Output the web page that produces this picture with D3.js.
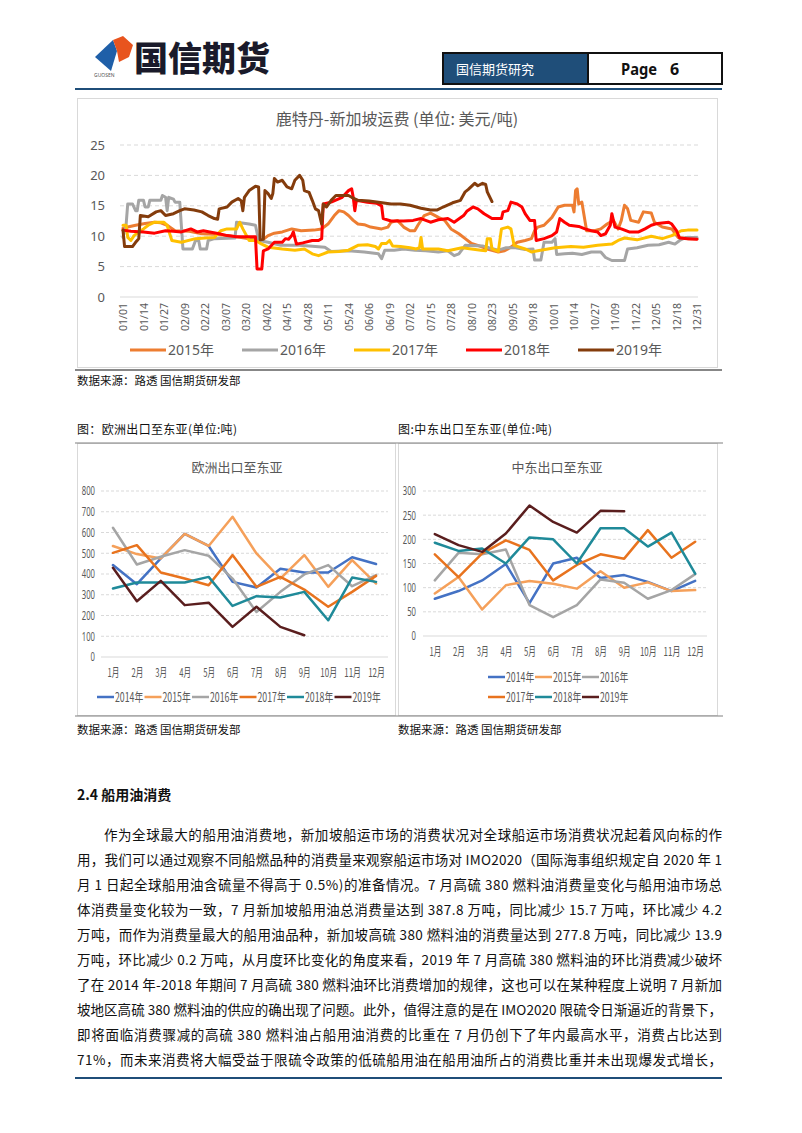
<!DOCTYPE html>
<html>
<head>
<meta charset="utf-8">
<script src="https://cdn.jsdelivr.net/npm/d3@7"></script>
<style>
  body { margin: 0; background: #fff; }
  svg { display: block; }
</style>
</head>
<body>
<svg id="page" width="802" height="1133"></svg>
<script>
// ---------- data ----------
const freightTicks = ["01/01","01/14","01/27","02/09","02/22","03/07","03/20","04/02","04/15","04/28",
  "05/11","05/24","06/06","06/19","07/02","07/15","07/28","08/10","08/23","09/05","09/18","10/01",
  "10/14","10/27","11/09","11/22","12/05","12/18","12/31"];
const freightYears = ["2015年","2016年","2017年","2018年","2019年"];

// [day of year, USD/t]
const freight2015 = [[0,11.3],[3,11.5],[8,11.8],[14,12.1],[20,12.3],[24,12.2],[28,11.8],[33,10.9],[42,10.8],[50,10.4],[58,10.3],[66,10.1],[75,9.8],[84,9.4],[88,9.3],[92,10.1],[96,10.5],[101,10.7],[107,11.2],[113,10.9],[121,11.0],[126,11.2],[130,12.0],[134,13.4],[137,14.2],[140,14.0],[143,13.4],[146,12.6],[149,12.0],[153,11.9],[157,11.5],[164,11.2],[168,11.5],[170,12.3],[174,12.6],[178,11.5],[182,10.9],[185,10.9],[187,11.8],[191,13.4],[195,13.8],[200,13.1],[204,12.6],[208,11.2],[213,10.4],[217,9.6],[221,8.8],[225,8.5],[231,7.9],[238,7.4],[242,7.6],[246,8.2],[250,9.0],[255,9.3],[259,9.6],[261,10.9],[263,11.5],[267,11.8],[272,13.1],[276,14.8],[280,15.1],[285,15.1],[286,14.0],[287,17.5],[288,17.8],[289,15.3],[291,15.6],[294,10.9],[299,10.9],[303,11.2],[307,12.0],[311,12.6],[314,11.2],[316,12.6],[318,15.1],[320,14.5],[322,12.6],[327,12.3],[330,14.0],[335,13.8],[337,12.3],[342,11.5],[348,11.2],[352,9.8],[358,9.6],[364,9.6]];
const freight2016 = [[0,9.8],[2,12],[3,15.3],[6,15.3],[8,14.2],[9,14.2],[10,15.9],[13,15.9],[14,14.8],[16,14.8],[17,15.9],[24,15.9],[25,16.7],[27,16.4],[28,14.2],[29,16.4],[32,16.1],[33,15.6],[36,15.6],[38,7.9],[44,7.9],[46,9.3],[48,9.3],[49,7.9],[53,7.9],[54,9.3],[58,9.6],[71,9.7],[72,12.3],[80,12.0],[84,11.8],[86,9.3],[92,9.0],[100,8.5],[112,8.5],[122,8.3],[128,8.2],[132,7.5],[143,7.6],[153,7.4],[162,7.1],[164,6.3],[166,7.7],[172,7.7],[178,7.9],[185,7.7],[192,7.6],[200,7.4],[206,7.6],[210,6.8],[213,7.1],[217,8.5],[228,8.4],[232,8.1],[238,7.7],[243,8.1],[249,8.1],[255,7.8],[260,7.9],[261,6.1],[265,6.1],[267,9.0],[272,9.0],[274,9.6],[275,7.0],[280,7.1],[285,7.2],[291,7.0],[297,7.4],[303,7.4],[306,6.5],[310,6.0],[318,6.0],[320,7.9],[326,8.1],[333,8.5],[340,8.6],[346,9.0],[350,8.7],[353,9.3],[357,9.8],[364,9.8]];
const freight2017 = [[0,11.8],[2,11.8],[3,9.8],[5,9.3],[7,10.1],[10,10.7],[13,11.2],[16,11.8],[20,12.3],[26,12.3],[28,11.8],[29,10.9],[31,9.3],[37,9.0],[46,9.6],[52,9.7],[58,9.8],[62,10.9],[66,11.2],[72,11.2],[74,12.3],[76,11.2],[80,9.3],[84,9.3],[88,8.7],[92,8.2],[101,7.9],[109,7.7],[115,7.9],[120,7.1],[124,6.8],[127,7.1],[130,7.4],[137,7.5],[143,7.7],[149,8.5],[155,8.6],[160,8.3],[162,7.9],[164,8.8],[167,8.8],[169,9.3],[171,8.4],[176,8.3],[182,8.1],[186,7.9],[188,8.1],[189,9.8],[190,7.9],[200,7.9],[206,7.6],[215,8.1],[227,7.7],[230,7.6],[231,9.6],[233,9.6],[234,7.9],[238,7.5],[240,11.2],[244,11.5],[246,11.2],[248,8.5],[255,7.9],[259,7.4],[263,7.6],[274,8.1],[284,8.3],[292,8.2],[301,8.5],[310,8.7],[314,9.3],[318,9.7],[326,9.4],[335,10.0],[342,9.6],[348,10.1],[354,10.9],[358,11.0],[364,11.0]];
const freight2018 = [[0,11.0],[5,10.8],[13,10.7],[20,10.5],[27,10.9],[32,10.8],[37,10.7],[43,11.2],[47,10.7],[51,10.9],[55,10.7],[61,10.4],[66,10.1],[72,9.9],[84,9.9],[85,4.6],[88,4.6],[89,7.6],[92,7.9],[96,9.0],[101,9.0],[103,9.6],[105,9.5],[107,10.1],[108,10.7],[110,8.7],[114,8.9],[120,9.3],[124,9.3],[126,9.6],[127,15.3],[132,15.6],[139,16.4],[143,17.5],[145,17.8],[146,16.4],[147,14.2],[148,15.9],[155,15.6],[161,15.4],[164,15.0],[165,12.9],[170,12.5],[178,12.5],[184,12.6],[189,12.9],[195,12.3],[200,12.7],[206,12.9],[210,12.3],[216,13.4],[218,14.1],[222,14.8],[225,14.5],[229,13.7],[234,12.9],[240,12.9],[241,14.0],[244,14.2],[246,15.6],[250,15.3],[253,14.8],[255,13.7],[258,12.6],[261,12.6],[262,9.3],[267,9.6],[272,10.1],[275,10.7],[277,12.9],[280,12.3],[283,11.8],[289,11.6],[293,11.2],[297,10.9],[301,10.7],[303,10.1],[306,10.4],[309,11.8],[310,13.7],[312,11.5],[316,11.2],[321,10.7],[327,10.7],[331,11.2],[335,11.8],[339,12.1],[346,12.3],[348,12.0],[351,10.9],[353,9.7],[358,9.6],[364,9.5]];
const freight2019 = [[0,11.0],[1,8.3],[6,8.3],[8,9.0],[9,9.3],[10,9.6],[11,13.4],[16,13.2],[21,14.0],[24,14.2],[27,13.4],[32,13.7],[36,14.2],[39,14.5],[45,14.3],[50,14.0],[54,13.4],[58,12.9],[60,12.8],[61,14.5],[66,14.8],[69,15.6],[73,16.2],[75,15.8],[76,14.2],[77,16.4],[80,17.5],[84,18.2],[86,18.1],[87,9.4],[89,9.5],[90,17.5],[92,17.0],[94,16.2],[95,17.0],[96,19.5],[98,18.9],[101,19.2],[104,18.1],[107,17.8],[109,19.2],[112,20.0],[114,19.2],[115,17.5],[118,17.2],[120,15.9],[122,14.5],[124,14.2],[126,12.0],[127,15.3],[129,14.8],[132,15.9],[135,16.7],[143,16.7],[145,16.4],[149,15.9],[156,15.8],[162,15.6],[170,15.3],[176,15.3],[182,15.1],[189,14.6],[195,14.3],[199,14.3],[203,14.8],[209,15.5],[214,15.9],[217,17.3],[219,17.7],[223,18.7],[225,18.3],[228,18.7],[230,18.5],[231,17.3],[234,15.7]];

const months = ["1月","2月","3月","4月","5月","6月","7月","8月","9月","10月","11月","12月"];
const monthYears = ["2014年","2015年","2016年","2017年","2018年","2019年"];

// 欧洲出口至东亚
const eu2014 = [443,351,475,593,535,362,335,425,407,407,481,448];
const eu2015 = [535,496,475,593,535,676,499,378,491,338,467,354];
const eu2016 = [623,446,483,515,488,378,217,314,398,443,341,395];
const eu2017 = [502,539,407,378,346,491,338,386,325,242,314,391];
const eu2018 = [330,359,359,359,386,246,293,287,314,177,383,362];
const eu2019 = [430,269,367,250,262,145,242,145,105];

// 中东出口至东亚
const me2014 = [77,93,115,149,68,150,162,120,126,112,93,114];
const me2015 = [88,122,55,105,114,108,98,134,100,111,93,95];
const me2016 = [115,172,169,179,64,39,64,117,110,77,95,128];
const me2017 = [169,122,171,198,178,115,147,169,160,219,162,195];
const me2018 = [193,176,181,150,204,200,150,223,223,185,214,129];
const me2019 = [211,188,174,212,270,236,214,259,258];

const bodyLines = [
  "作为全球最大的船用油消费地，新加坡船运市场的消费状况对全球船运市场消费状况起着风向标的作",
  "用，我们可以通过观察不同船燃品种的消费量来观察船运市场对 IMO2020（国际海事组织规定自 2020 年 1",
  "月 1 日起全球船用油含硫量不得高于 0.5%)的准备情况。7 月高硫 380 燃料油消费量变化与船用油市场总",
  "体消费量变化较为一致，7 月新加坡船用油总消费量达到 387.8 万吨，同比减少 15.7 万吨，环比减少 4.2",
  "万吨，而作为消费量最大的船用油品种，新加坡高硫 380 燃料油的消费量达到 277.8 万吨，同比减少 13.9",
  "万吨，环比减少 0.2 万吨，从月度环比变化的角度来看，2019 年 7 月高硫 380 燃料油的环比消费减少破坏",
  "了在 2014 年-2018 年期间 7 月高硫 380 燃料油环比消费增加的规律，这也可以在某种程度上说明 7 月新加",
  "坡地区高硫 380 燃料油的供应的确出现了问题。此外，值得注意的是在 IMO2020 限硫令日渐逼近的背景下，",
  "即将面临消费骤减的高硫 380 燃料油占船用油消费的比重在 7 月仍创下了年内最高水平，消费占比达到",
  "71%，而未来消费将大幅受益于限硫令政策的低硫船用油在船用油所占的消费比重并未出现爆发式增长，"
];

// ---------- page ----------
const CJK = '"Noto Sans CJK SC", "Noto Sans", sans-serif';
const LATIN = '"Noto Sans", "Noto Sans CJK SC", sans-serif';

// condensed look: squeeze a label to a width based on its characters
function squeeze(sel, digitW, cjkW) {
  sel.each(function () {
    const t = d3.select(this).text();
    let w = 0;
    for (const ch of t) w += /[\u4e00-\u9fff]/.test(ch) ? cjkW : digitW;
    d3.select(this).attr("textLength", w).attr("lengthAdjust", "spacingAndGlyphs");
  });
}

const svg = d3.select("#page");
svg.append("rect").attr("width", 802).attr("height", 1133).attr("fill", "#fff");

// header
const head = svg.append("g");
head.append("path").attr("d", "M95,57 L113,40 L117,51 L111,71 Z").attr("fill", "#1F5FA8");
head.append("path").attr("d", "M113,40 L123,36 L133,45 L129,57 L119,62 L117,51 Z").attr("fill", "#E8541E");
head.append("text").attr("x", 94).attr("y", 77).text("GUOSEN")
  .attr("font-family", LATIN).attr("font-size", 5).attr("fill", "#555");
head.append("text").attr("x", 134).attr("y", 71).text("国信期货")
  .attr("textLength", 136).attr("lengthAdjust", "spacingAndGlyphs")
  .attr("font-family", CJK).attr("font-weight", 900).attr("font-size", 34).attr("fill", "#1a1a2a");
head.append("rect").attr("x", 443).attr("y", 53).attr("width", 145).attr("height", 31)
  .attr("fill", "#1F4E79").attr("stroke", "#111").attr("stroke-width", 2);
head.append("rect").attr("x", 588).attr("y", 53).attr("width", 134).attr("height", 31)
  .attr("fill", "#fff").attr("stroke", "#111").attr("stroke-width", 2);
head.append("text").attr("x", 456).attr("y", 74).text("国信期货研究")
  .attr("font-family", CJK).attr("font-size", 13).attr("fill", "#fff");
head.append("text").attr("x", 621).attr("y", 75).text("Page")
  .attr("textLength", 36).attr("lengthAdjust", "spacingAndGlyphs")
  .attr("font-family", LATIN).attr("font-weight", "bold").attr("font-size", 16).attr("fill", "#111");
head.append("text").attr("x", 670).attr("y", 75).text("6")
  .attr("font-family", LATIN).attr("font-weight", "bold").attr("font-size", 16).attr("fill", "#111");
svg.append("line").attr("x1", 75).attr("x2", 722).attr("y1", 89).attr("y2", 89)
  .attr("stroke", "#1F4E79").attr("stroke-width", 2);

// ---------- freight chart ----------
function drawFreight() {
  const g = svg.append("g");
  g.append("rect").attr("x", 77.5).attr("y", 98.5).attr("width", 640).attr("height", 269)
    .attr("fill", "#fff").attr("stroke", "#D9D9D9");
  g.append("text").attr("x", 397).attr("y", 125).attr("text-anchor", "middle")
    .text("鹿特丹-新加坡运费 (单位: 美元/吨)")
    .attr("font-family", CJK).attr("font-size", 16).attr("fill", "#595959");

  const x = d3.scaleLinear().domain([0, 364]).range([123, 697]);
  const y = d3.scaleLinear().domain([0, 25]).range([297, 145]);

  g.selectAll("line.grid").data([5, 10, 15, 20, 25]).enter().append("line")
    .attr("class", "grid")
    .attr("x1", 120).attr("x2", 698)
    .attr("y1", d => y(d)).attr("y2", d => y(d))
    .attr("stroke", "#D9D9D9").attr("stroke-dasharray", "4,3");

  const yAxis = g.append("g").attr("transform", "translate(120,0)")
    .call(d3.axisLeft(y).tickValues([0, 5, 10, 15, 20, 25]).tickSize(0).tickPadding(15));
  yAxis.select(".domain").remove();
  yAxis.selectAll("text").attr("font-family", LATIN).attr("font-size", 13).attr("fill", "#595959");

  const tickDays = freightTicks.map((t, i) => i * 13);
  const xAxis = g.append("g").attr("transform", `translate(0,${y(0)})`)
    .call(d3.axisBottom(x).tickValues(tickDays).tickFormat((d, i) => freightTicks[i]).tickSize(0));
  xAxis.select(".domain").attr("d", "M120,0H698").attr("stroke", "#D9D9D9");
  xAxis.selectAll("text")
    .attr("transform", "rotate(-90)")
    .attr("x", -6).attr("y", 0).attr("dy", "0.35em")
    .style("text-anchor", "end")
    .attr("font-family", LATIN).attr("font-size", 10.5).attr("fill", "#595959");

  const series = [freight2015, freight2016, freight2017, freight2018, freight2019];
  const colors = ["#ED7D31", "#A5A5A5", "#FFC000", "#FF0000", "#843C0C"];
  const line = d3.line().x(d => x(d[0])).y(d => y(d[1]));
  series.forEach((s, i) => {
    g.append("path").attr("d", line(s)).attr("fill", "none")
      .attr("stroke", colors[i]).attr("stroke-width", 3)
      .attr("stroke-linejoin", "round").attr("stroke-linecap", "round");
  });

  freightYears.forEach((name, i) => {
    const lx = 130 + i * 112;
    g.append("line").attr("x1", lx).attr("x2", lx + 36).attr("y1", 350).attr("y2", 350)
      .attr("stroke", colors[i]).attr("stroke-width", 3);
    g.append("text").attr("x", lx + 38).attr("y", 355).text(name)
      .attr("font-family", LATIN).attr("font-size", 14).attr("fill", "#595959");
  });

  svg.append("line").attr("x1", 75).attr("x2", 722).attr("y1", 370).attr("y2", 370)
    .attr("stroke", "#111").attr("stroke-width", 1);
  svg.append("text").attr("x", 77).attr("y", 385).text("数据来源：路透 国信期货研发部")
    .attr("font-family", CJK).attr("font-size", 11.5).attr("fill", "#111");
}
drawFreight();

// ---------- monthly charts ----------
const monthColors = ["#4472C4", "#F5A05A", "#A5A5A5", "#E8731E", "#1F8A99", "#5A1E1E"];

function drawMonthly(cfg, series) {
  const g = svg.append("g");
  g.append("text").attr("x", cfg.cx).attr("y", 472).attr("text-anchor", "middle").text(cfg.title)
    .attr("textLength", 91).attr("lengthAdjust", "spacingAndGlyphs")
    .attr("font-family", CJK).attr("font-size", 13).attr("fill", "#595959");

  const x = d3.scalePoint().domain(months).range([cfg.left, cfg.right]).padding(0.5);
  const y = d3.scaleLinear().domain([0, cfg.max]).range([cfg.bottom, 491]);

  g.selectAll("line.grid").data(cfg.ticks.slice(1)).enter().append("line")
    .attr("class", "grid")
    .attr("x1", cfg.left).attr("x2", cfg.right)
    .attr("y1", d => y(d)).attr("y2", d => y(d))
    .attr("stroke", "#D9D9D9").attr("stroke-dasharray", "3,2");
  g.append("line").attr("x1", cfg.left).attr("x2", cfg.right)
    .attr("y1", y(0)).attr("y2", y(0)).attr("stroke", "#D9D9D9");

  const yAxis = g.append("g").attr("transform", `translate(${cfg.left},0)`)
    .call(d3.axisLeft(y).tickValues(cfg.ticks).tickSize(0).tickPadding(cfg.pad));
  yAxis.select(".domain").remove();
  yAxis.selectAll("text").attr("font-family", LATIN).attr("font-size", 12).attr("fill", "#595959")
    .call(squeeze, 4.4, 8);

  const xAxis = g.append("g").attr("transform", `translate(0,${y(0)})`)
    .call(d3.axisBottom(x).tickSize(0).tickPadding(11));
  xAxis.select(".domain").remove();
  xAxis.selectAll("text").attr("font-family", CJK).attr("font-size", 12).attr("fill", "#595959")
    .call(squeeze, 4.9, 7);

  const line = d3.line().x((d, i) => x(months[i])).y(d => y(d));
  series.forEach((s, i) => {
    g.append("path").attr("d", line(s)).attr("fill", "none")
      .attr("stroke", monthColors[i]).attr("stroke-width", 2.5)
      .attr("stroke-linejoin", "round").attr("stroke-linecap", "round");
  });

  monthYears.forEach((name, i) => {
    const row = Math.floor(i / cfg.perRow);
    const col = i % cfg.perRow;
    const lx = cfg.legX + col * cfg.legStep;
    const ly = cfg.legY + row * 20;
    g.append("line").attr("x1", lx).attr("x2", lx + 17).attr("y1", ly).attr("y2", ly)
      .attr("stroke", monthColors[i]).attr("stroke-width", 2.5);
    g.append("text").attr("x", lx + 18).attr("y", ly + 4.5).text(name)
      .attr("font-family", CJK).attr("font-size", 12.5).attr("fill", "#595959")
      .call(squeeze, 5.1, 7.8);
  });
}

// frames and captions
svg.append("text").attr("x", 77).attr("y", 434).text("图：欧洲出口至东亚(单位:吨)")
  .attr("textLength", 160).attr("lengthAdjust", "spacing")
  .attr("font-family", CJK).attr("font-size", 12).attr("fill", "#111");
svg.append("text").attr("x", 398).attr("y", 434).text("图:中东出口至东亚(单位:吨)")
  .attr("textLength", 154).attr("lengthAdjust", "spacing")
  .attr("font-family", CJK).attr("font-size", 12).attr("fill", "#111");
[[77, 395], [398, 717]].forEach(([a, b]) => {
  svg.append("rect").attr("x", a + 0.5).attr("y", 443.5).attr("width", b - a).attr("height", 272)
    .attr("fill", "#fff").attr("stroke", "#D9D9D9");
});
svg.append("line").attr("x1", 75).attr("x2", 723).attr("y1", 443).attr("y2", 443)
  .attr("stroke", "#808080").attr("stroke-width", 1.2);
svg.append("line").attr("x1", 75).attr("x2", 723).attr("y1", 716).attr("y2", 716)
  .attr("stroke", "#808080").attr("stroke-width", 1.2);

drawMonthly({ title: "欧洲出口至东亚", cx: 237, left: 101, right: 388, bottom: 657, max: 800,
  ticks: [0, 100, 200, 300, 400, 500, 600, 700, 800], pad: 6,
  legX: 97, legY: 697, legStep: 47.5, perRow: 6 },
  [eu2014, eu2015, eu2016, eu2017, eu2018, eu2019]);
drawMonthly({ title: "中东出口至东亚", cx: 557, left: 423, right: 707, bottom: 636, max: 300,
  ticks: [0, 50, 100, 150, 200, 250, 300], pad: 7,
  legX: 488, legY: 677, legStep: 47, perRow: 3 },
  [me2014, me2015, me2016, me2017, me2018, me2019]);

svg.append("text").attr("x", 77).attr("y", 734).text("数据来源：路透 国信期货研发部")
  .attr("font-family", CJK).attr("font-size", 11.5).attr("fill", "#111");
svg.append("text").attr("x", 398).attr("y", 734).text("数据来源：路透 国信期货研发部")
  .attr("font-family", CJK).attr("font-size", 11.5).attr("fill", "#111");

// ---------- body text ----------
svg.append("text").attr("x", 77).attr("y", 800).text("2.4 船用油消费")
  .attr("font-family", CJK).attr("font-weight", "bold").attr("font-size", 14).attr("fill", "#111");

bodyLines.forEach((t, i) => {
  const x0 = i === 0 ? 104 : 77;
  svg.append("text").attr("x", x0).attr("y", 840 + i * 25).text(t)
    .attr("textLength", 722 - x0).attr("lengthAdjust", "spacing")
    .attr("font-family", CJK).attr("font-size", 13.5).attr("fill", "#111");
});

svg.append("line").attr("x1", 75).attr("x2", 722).attr("y1", 1078).attr("y2", 1078)
  .attr("stroke", "#1F4E79").attr("stroke-width", 2);
</script>
</body>
</html>
